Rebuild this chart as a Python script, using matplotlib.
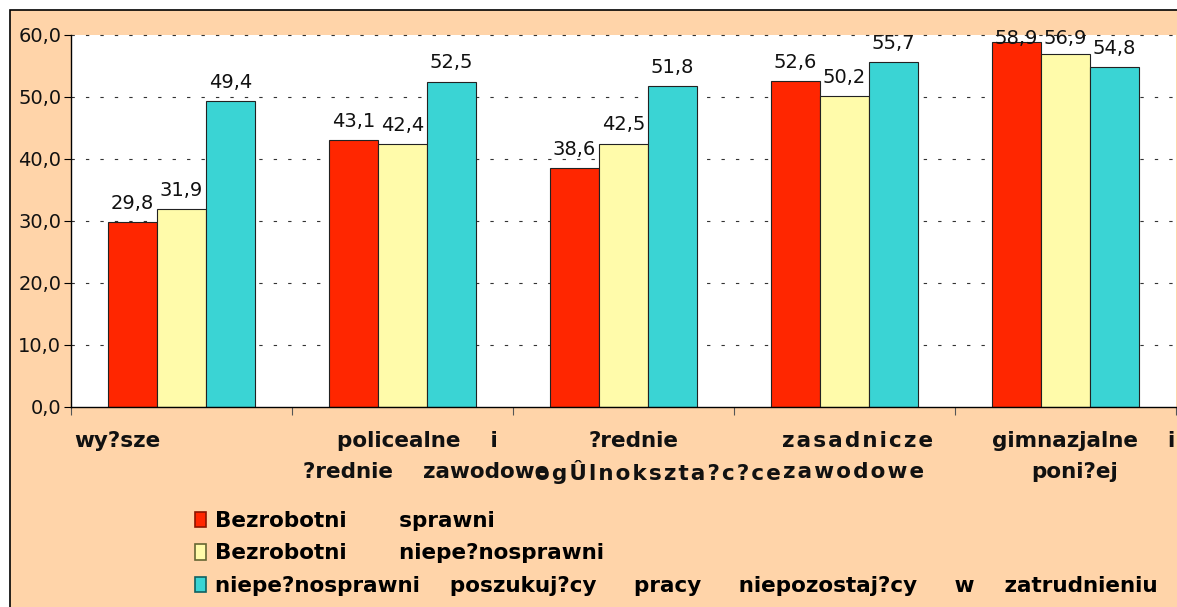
import matplotlib
matplotlib.use("Agg")
import matplotlib.pyplot as plt
from matplotlib.patches import Rectangle, Patch
import numpy as np

HS = "\u200a"  # hair space used for the letter-spaced labels


def spaced(s):
    return HS.join(s)


categories = [
    ["wy?sze"],
    ["policealne    i", "?rednie    zawodowe"],
    ["?rednie", spaced("ogÛlnokszta?c?ce")],
    [spaced("zasadnicze"), spaced("zawodowe")],
    ["gimnazjalne    i", "poni?ej"],
]
series_names = [
    "Bezrobotni       sprawni",
    "Bezrobotni       niepe?nosprawni",
    "niepe?nosprawni    poszukuj?cy     pracy     niepozostaj?cy     w    zatrudnieniu",
]
sprawni = [29.8, 43.1, 38.6, 52.6, 58.9]
niepelnosprawni = [31.9, 42.4, 42.5, 50.2, 56.9]
poszukujacy = [49.4, 52.5, 51.8, 55.7, 54.8]
yticks = [0, 10, 20, 30, 40, 50, 60]

colors = ["#FF2600", "#FFFBAA", "#3AD4D4"]
edge_colors = ["#8B1500", "#666633", "#106060"]
peach = "#FFD4A9"

W, H = 1177, 607
fig = plt.figure(figsize=(W / 100, H / 100), dpi=100)
fig.patch.set_facecolor("white")
frame = Rectangle((10 / W, -0.1), 1.2, 1 - 10 / H + 0.1,
                  transform=fig.transFigure, facecolor=peach,
                  edgecolor="black", linewidth=1.2, zorder=-10)
fig.patches.append(frame)

ax = fig.add_axes([71 / W, 1 - 407 / H, (1176 - 71) / W, (407 - 35) / H])
ax.set_zorder(1)
ax.set_facecolor("white")

x = np.arange(len(sprawni))
bw = 0.222
all_series = [sprawni, niepelnosprawni, poszukujacy]
for i, vals in enumerate(all_series):
    xs = x + (i - 1) * bw
    ax.bar(xs, vals, width=bw, color=colors[i], edgecolor="#222222",
           linewidth=0.8, zorder=3, label=series_names[i])
    for xi, v in zip(xs, vals):
        yc = min(v + 3.0, 59.4)
        ax.text(xi, yc, f"{v:.1f}".replace(".", ","), ha="center", va="center",
                fontsize=14, family="DejaVu Sans", color="#111111", zorder=5,
                clip_on=False)

ax.set_xlim(-0.5, len(sprawni) - 0.5)
ax.set_ylim(0, 60)
ax.set_yticks(yticks)
ax.set_yticklabels([f"{t:.1f}".replace(".", ",") for t in yticks],
                   fontsize=14, family="DejaVu Sans", color="#111111")
ax.set_xticks(np.arange(len(sprawni) + 1) - 0.5)
ax.set_xticklabels([])
ax.tick_params(axis="y", length=5, width=0.8, pad=2, direction="out")
ax.tick_params(axis="x", length=6, width=0.8, direction="out", color="#555555")

for t in yticks[1:]:
    ax.axhline(t, color="#333333", linewidth=0.8, linestyle=(0, (3.0, 10.0)),
               zorder=1, clip_on=False)

for s in ["top", "right"]:
    ax.spines[s].set_visible(False)
ax.spines["left"].set_linewidth(1.0)
ax.spines["bottom"].set_linewidth(1.0)
ax.spines["left"].set_zorder(6)
ax.spines["bottom"].set_zorder(6)

# category labels
label_pos = [
    [-0.29],
    [1.066, 1.106],
    [2.047, 2.156],
    [3.057, 3.043],
    [4.084, 4.04],
]
line_y = [1 - 441 / H, 1 - 472 / H]
trans = matplotlib.transforms.blended_transform_factory(ax.transData, fig.transFigure)
for ci, lines in enumerate(categories):
    for li, txt in enumerate(lines):
        ax.text(label_pos[ci][li], line_y[li], txt, transform=trans,
                ha="center", va="center", fontsize=15.5, fontweight="bold",
                family="DejaVu Sans", color="#111111", clip_on=False)

handles = [Patch(facecolor=colors[i], edgecolor=edge_colors[i], linewidth=1.2)
           for i in range(3)]
fig.legend(handles, series_names, loc="upper left",
           bbox_to_anchor=(195 / W, 1 - 511 / H), frameon=False,
           prop={"family": "DejaVu Sans", "weight": "bold", "size": 15.5},
           handlelength=0.5, handleheight=0.75, handletextpad=0.45,
           labelspacing=0.58, borderaxespad=0, borderpad=0)

fig.savefig("out.png", dpi=100, facecolor=fig.get_facecolor())
